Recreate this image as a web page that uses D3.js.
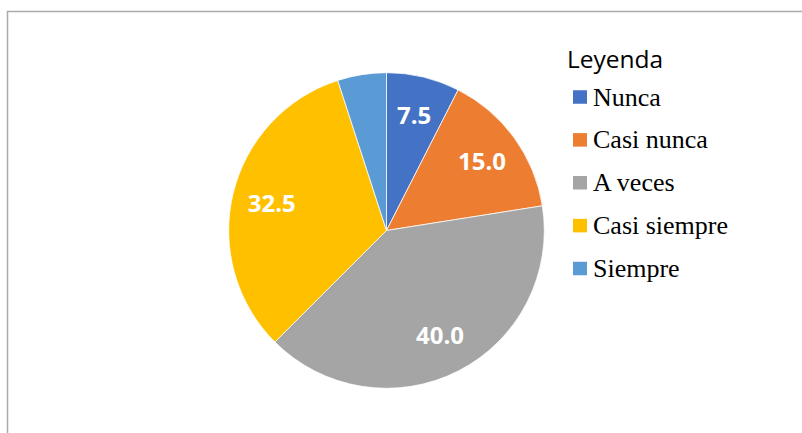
<!DOCTYPE html>
<html><head><meta charset="utf-8">
<script src="https://cdn.jsdelivr.net/npm/d3@7"></script>
<style>body{margin:0;background:#fff;}svg{display:block;}</style>
</head><body>
<svg id="c" width="802" height="433"></svg>
<script>
const categories = ["Nunca", "Casi nunca", "A veces", "Casi siempre", "Siempre"];
const values = [7.5, 15.0, 40.0, 32.5, 5.0];
const labels = ["7.5", "15.0", "40.0", "32.5", ""];
const colors = ["#4472C4", "#ED7D31", "#A5A5A5", "#FFC000", "#5B9BD5"];
const legendTitle = "Leyenda";

const svg = d3.select("#c");
// frame
svg.append("path").attr("d", "M7.5,433 V11.5 H802").attr("fill", "none")
  .attr("stroke", "#ababab").attr("stroke-width", 1.5);

const cx = 386.5, cy = 230.5, R = 157.8;
const g = svg.append("g").attr("transform", `translate(${cx},${cy})`);
const pie = d3.pie().sort(null).value(d => d)(values);
const arc = d3.arc().innerRadius(0).outerRadius(R);
const color = d3.scaleOrdinal().domain(categories).range(colors);
g.selectAll("path.s").data(pie).join("path").attr("class", "s")
  .attr("d", arc).attr("fill", (d, i) => color(categories[i]))
  .attr("stroke", "#fff").attr("stroke-width", 0.75);

const lab = d3.arc().innerRadius(118).outerRadius(118);
g.selectAll("text.l").data(pie).join("text").attr("class", "l")
  .attr("transform", d => `translate(${lab.centroid(d)})`)
  .attr("text-anchor", "middle").attr("dy", "0.36em")
  .attr("font-family", "'Open Sans', sans-serif").attr("font-weight", "bold")
  .attr("font-size", 24).attr("fill", "#fff")
  .text((d, i) => labels[i]);

// legend
const lg = svg.append("g");
lg.append("text").attr("x", 567).attr("y", 68).attr("font-family", "'Open Sans', sans-serif")
  .attr("font-size", 24.5).attr("fill", "#000").text(legendTitle);
const ly = d3.scalePoint().domain(categories).range([97, 268.5]);
const items = lg.selectAll("g.i").data(categories).join("g").attr("class", "i")
  .attr("transform", d => `translate(573,${ly(d)})`);
items.append("rect").attr("x", 0).attr("y", -6.75).attr("width", 14).attr("height", 13.5)
  .attr("fill", d => color(d));
items.append("text").attr("x", 20).attr("dy", "0.33em")
  .attr("font-family", "'Liberation Serif', 'Times New Roman', serif")
  .attr("font-size", 26).attr("fill", "#000").text(d => d);
</script>
</body></html>
